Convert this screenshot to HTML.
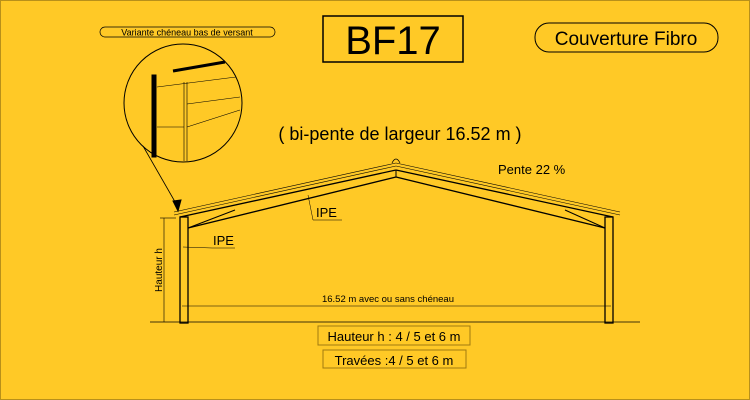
<!DOCTYPE html>
<html><head><meta charset="utf-8"><style>
body{margin:0;background:#FFC926;}
svg{display:block;font-family:"Liberation Sans",sans-serif;}
</style></head><body>
<svg width="750" height="400" viewBox="0 0 750 400">
<rect x="0" y="0" width="750" height="400" fill="#FFC926"/>
<rect x="0.5" y="0.5" width="749" height="399" fill="none" stroke="#b8901a"/>
<!-- titles -->
<g>
<rect x="323" y="16" width="140" height="46" fill="none" stroke="#000" stroke-width="1.5"/>
<text x="393" y="54" font-size="40" text-anchor="middle">BF17</text></g>
<g>
<rect x="535" y="23" width="183" height="29" rx="14" fill="none" stroke="#000"/>
<text x="626" y="45" font-size="19" text-anchor="middle">Couverture Fibro</text></g>
<g>
<rect x="100" y="27" width="175" height="10" rx="5" fill="none" stroke="#000" stroke-width="0.7"/>
<text x="187" y="35.5" font-size="9" text-anchor="middle">Variante chéneau bas de versant</text></g>
<text x="400" y="140" font-size="18" text-anchor="middle">( bi-pente de largeur 16.52 m )</text>
<text x="498" y="174" font-size="13">Pente 22 %</text>
<!-- detail circle -->
<g stroke="#000" fill="none">
<circle cx="183" cy="103" r="59"/>
<rect x="152" y="75" width="4" height="82" fill="#000"/>
<line x1="173" y1="71" x2="225" y2="62" stroke-width="3"/>
<line x1="157" y1="87" x2="236" y2="77" stroke-width="0.6"/>
<line x1="184" y1="82" x2="184" y2="161" stroke-width="0.6"/>
<line x1="187" y1="82" x2="187" y2="161" stroke-width="0.6"/>
<line x1="187" y1="104" x2="240" y2="97" stroke-width="0.6"/>
<line x1="187" y1="127" x2="240" y2="110" stroke-width="0.6"/>
<line x1="157" y1="127" x2="184" y2="127" stroke-width="0.6"/>
<line x1="143" y1="146" x2="178" y2="207" stroke-width="0.8"/>
<polygon points="178,211 173,201 181,200" fill="#000"/>
</g>
<!-- portal frame -->
<g stroke="#000" fill="none">
<line x1="174" y1="212" x2="396" y2="163" stroke-width="0.6"/>
<line x1="174" y1="215" x2="396" y2="166" stroke-width="0.6"/>
<line x1="396" y1="163" x2="620" y2="212" stroke-width="0.6"/>
<line x1="396" y1="166" x2="620" y2="215" stroke-width="0.6"/>
<line x1="180" y1="217" x2="396" y2="170" stroke-width="1.3"/>
<line x1="188" y1="228" x2="396" y2="177" stroke-width="1.3"/>
<line x1="396" y1="170" x2="613" y2="217" stroke-width="1.3"/>
<line x1="396" y1="177" x2="605" y2="228" stroke-width="1.3"/>
<line x1="188" y1="228" x2="235" y2="210" stroke-width="1"/>
<line x1="605" y1="228" x2="565" y2="210" stroke-width="1"/>
<line x1="396" y1="170" x2="396" y2="177" stroke-width="1"/>
<path d="M392,163 Q396,155 400,163" stroke-width="0.7"/>
<rect x="180" y="217" width="8" height="106" stroke-width="1.3"/>
<rect x="605" y="217" width="8" height="106" stroke-width="1.3"/>
<line x1="150" y1="322" x2="640" y2="322" stroke-width="0.7"/>
<line x1="164" y1="218" x2="164" y2="322" stroke-width="0.6"/>
<line x1="160" y1="218" x2="176" y2="218" stroke-width="0.6"/>
<line x1="182" y1="306" x2="611" y2="306" stroke-width="0.6"/>
<polyline points="183,247 212,248 235,248" stroke-width="0.5"/>
<polyline points="308,195 313,220 342,220" stroke-width="0.5"/>
</g>
<text x="213" y="245" font-size="13">IPE</text>
<text x="316" y="217" font-size="13">IPE</text>
<text x="162" y="270" font-size="10" text-anchor="middle" transform="rotate(-90 162 270)">Hauteur h</text>
<text x="388" y="302" font-size="9.5" text-anchor="middle">16.52 m avec ou sans chéneau</text>
<g>
<rect x="318" y="326" width="152" height="19" fill="none" stroke="#a07a10"/>
<text x="394" y="341" font-size="13" text-anchor="middle">Hauteur h : 4 / 5 et 6 m</text></g>
<g>
<rect x="323" y="350" width="143" height="18" fill="none" stroke="#a07a10"/>
<text x="394" y="365" font-size="13" text-anchor="middle">Travées :4 / 5  et  6  m</text></g>
</svg>
</body></html>
